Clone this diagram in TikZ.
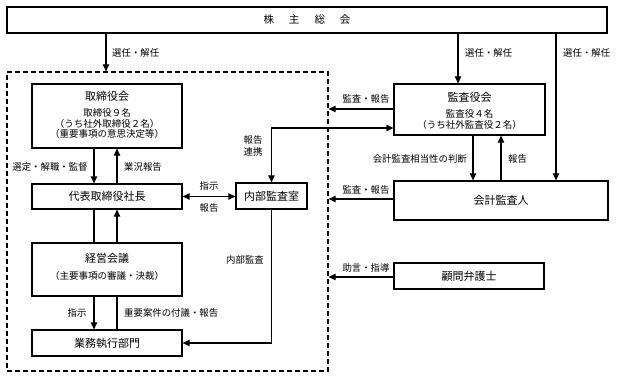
\documentclass[tikz,border=0pt]{standalone}
\usepackage{fontspec}
\setmainfont{Noto Sans CJK JP}
\usetikzlibrary{arrows.meta}
\begin{document}
\begin{tikzpicture}[x=1pt,y=-1pt,
  box/.style={draw, line width=1.3pt, inner sep=0pt, font=\fontsize{11}{13}\selectfont},
  maintxt/.style={inner sep=0pt, font=\fontsize{11}{13}\selectfont},
  sub/.style={inner sep=0pt, font=\fontsize{9.5}{11}\selectfont},
  lbl/.style={inner sep=0pt, font=\fontsize{9.4}{10}\selectfont},
  conn/.style={line width=1.1pt},
  arr/.style={conn, -{Triangle[length=7pt,width=6.5pt]}},
  darr/.style={conn, {Triangle[length=7pt,width=6.5pt]}-{Triangle[length=7pt,width=6.5pt]}},
  grpbox/.style={draw, line width=1.3pt, dash pattern=on 5pt off 3pt, inner sep=0pt}
]
\useasboundingbox (0,0) rectangle (617,379);

% group (dashed)
\node[grpbox, minimum width=321pt, minimum height=299pt] (grp) at (167.5,221.5) {};

% boxes
\node[box, minimum width=600pt, minimum height=26pt, font=\fontsize{10.5}{12}\selectfont] (sh) at (307,20) {株\hspace{15pt}主\hspace{15pt}総\hspace{15pt}会};

\node[box, minimum width=150pt, minimum height=64pt] (tori) at (107,116) {};
\node[maintxt] (tori-a) at (107,96) {取締役会};
\node[sub] (tori-b) at (107,113) {取締役９名};
\node[sub] (tori-c) at (107,123.5) {（うち社外取締役２名）};
\node[sub] (tori-d) at (107,134) {（重要事項の意思決定等）};

\node[box, minimum width=150pt, minimum height=25pt] (dai) at (107,196.5) {代表取締役社長};
\node[box, minimum width=71pt, minimum height=26pt] (naibu) at (271.5,196) {内部監査室};

\node[box, minimum width=150pt, minimum height=53pt] (keiei) at (107,269.5) {};
\node[maintxt] (keiei-a) at (107,258) {経営会議};
\node[sub] (keiei-b) at (107,276) {（主要事項の審議・決裁）};

\node[box, minimum width=150pt, minimum height=26pt] (gyomu) at (107,343) {業務執行部門};

\node[box, minimum width=151pt, minimum height=51pt] (kansa) at (469.5,109.5) {};
\node[maintxt] (kansa-a) at (469.5,97) {監査役会};
\node[sub] (kansa-b) at (469.5,114) {監査役４名};
\node[sub] (kansa-c) at (469.5,125) {（うち社外監査役２名）};

\node[box, minimum width=214pt, minimum height=39pt] (kaikei) at (501,200.5) {会計監査人};
\node[box, minimum width=150pt, minimum height=26pt] (komon) at (469,276) {顧問弁護士};

% shareholders' meeting
\draw[arr] (106,0 |- sh.south) -- (106,0 |- grp.north);
\draw[arr] (458,0 |- sh.south) -- (458,0 |- kansa.north);
\draw[arr] (556,0 |- sh.south) -- (556,0 |- kaikei.north);
\node[lbl, anchor=west] (l1) at (112,53) {選任・解任};
\node[lbl, anchor=west] (l2) at (465,53) {選任・解任};
\node[lbl, anchor=west] (l3) at (563,53) {選任・解任};

% board <-> president
\draw[arr] (94,0 |- tori.south) -- (94,0 |- dai.north);
\draw[arr] (117,0 |- dai.north) -- (117,0 |- tori.south);
\node[lbl] (l4) at (50,167) {選定・解職・監督};
\node[lbl, anchor=west] (l5) at (124,167) {業況報告};

% president <-> internal audit
\draw[darr] (dai.east) -- (dai.east -| naibu.west);
\node[lbl] (l6) at (209,186) {指示};
\node[lbl] (l7) at (209,207.5) {報告};

% auditors <-> internal audit
\draw[darr] (kansa.west |- 0,128) -| (naibu.north);
\node[lbl] (l8) at (253,140) {報告};
\node[lbl] (l9) at (253,152) {連携};

% auditors -> group
\draw[arr] (kansa.west |- 0,109) -- (grp.east |- 0,109);
\node[lbl] (l10) at (366,99) {監査・報告};

% auditors <-> accounting auditor
\draw[arr] (473,0 |- kansa.south) -- (473,0 |- kaikei.north);
\draw[arr] (501,0 |- kaikei.north) -- (501,0 |- kansa.south);
\node[lbl, anchor=east] (l11) at (467,159) {会計監査相当性の判断};
\node[lbl, anchor=west] (l12) at (508,159) {報告};

% accounting auditor -> group
\draw[arr] (kaikei.west |- 0,199) -- (grp.east |- 0,199);
\node[lbl] (l13) at (366,190) {監査・報告};

% lawyer -> group
\draw[arr] (komon.west |- 0,277) -- (grp.east |- 0,277);
\node[lbl] (l14) at (366,268) {助言・指導};

% president <-> management meeting
\draw[conn] (94,0 |- dai.south) -- (94,0 |- keiei.north);
\draw[arr] (117,0 |- keiei.north) -- (117,0 |- dai.south);

% management meeting <-> business divisions
\draw[arr] (94,0 |- keiei.south) -- (94,0 |- gyomu.north);
\draw[conn] (117,0 |- gyomu.north) -- (117,0 |- keiei.south);
\node[lbl] (l15) at (77,313) {指示};
\node[lbl, anchor=west] (l16) at (124,313) {重要案件の付議・報告};

% internal audit -> business divisions
\draw[arr] (naibu.south) |- (gyomu.east);
\node[lbl] (l17) at (245,260) {内部監査};

\end{tikzpicture}
\end{document}
